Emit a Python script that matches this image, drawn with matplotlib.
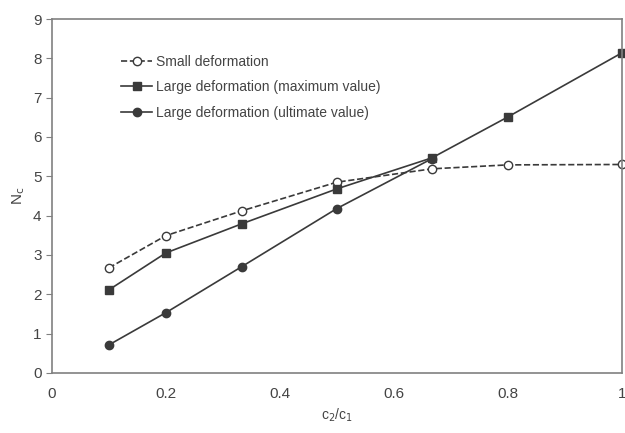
import matplotlib
matplotlib.use("Agg")
import matplotlib.pyplot as plt

plt.rcParams['font.family'] = ['Liberation Sans', 'DejaVu Sans']

ratio = [0.1, 0.2, 0.333, 0.5, 0.667, 0.8, 1.0]
small_def = [2.67, 3.49, 4.12, 4.85, 5.19, 5.29, 5.30]
large_max = [2.11, 3.05, 3.79, 4.68, 5.47, 6.51, 8.14]
ratio_ult = [0.1, 0.2, 0.333, 0.5, 0.667]
large_ult = [0.71, 1.53, 2.70, 4.18, 5.45]

col = '#3a3a3a'
fig = plt.figure(figsize=(6.25, 4.33), dpi=100)
ax = fig.add_axes([0.083, 0.139, 0.912, 0.817])

ax.plot(ratio, small_def, '--', color=col, lw=1.2, marker='o', ms=6,
        mfc='white', mec=col, label='Small deformation', clip_on=False)
ax.plot(ratio, large_max, '-', color=col, lw=1.2, marker='s', ms=6,
        label='Large deformation (maximum value)', clip_on=False)
ax.plot(ratio_ult, large_ult, '-', color=col, lw=1.2, marker='o', ms=6,
        label='Large deformation (ultimate value)', clip_on=False)

ax.set_xlim(0, 1)
ax.set_ylim(0, 9)
ax.set_xticks([0, 0.2, 0.4, 0.6, 0.8, 1])
ax.set_xticklabels(['0', '0.2', '0.4', '0.6', '0.8', '1'])
ax.set_yticks(range(10))
for s in ax.spines.values():
    s.set_color('#808080')
    s.set_linewidth(1.2)
ax.tick_params(axis='y', colors='#808080', length=4, labelcolor='#444444', labelsize=11)
ax.tick_params(axis='x', length=0, pad=10, labelcolor='#444444', labelsize=11)

ax.set_xlabel('c$_2$/c$_1$', color='#444444', fontsize=10)
ax.set_ylabel(r'N$_\mathrm{c}$', color='#444444', fontsize=11)

ax.legend(loc='upper left', bbox_to_anchor=(0.1, 0.935), frameon=False,
          fontsize=10, handlelength=2.2, handletextpad=0.3, labelspacing=0.85,
          labelcolor='#444444')

fig.savefig('out.png', dpi=100)
